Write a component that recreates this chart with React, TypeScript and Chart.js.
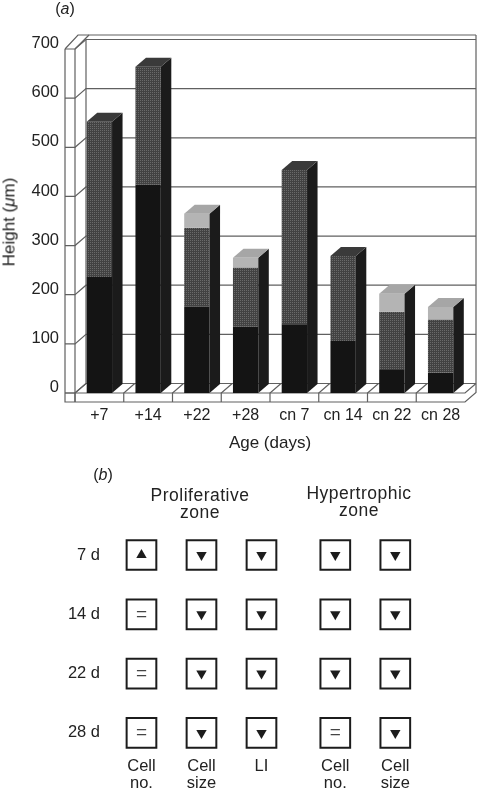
import React, { useEffect, useRef } from "react";
import { Chart, registerables } from "chart.js";

Chart.register(...registerables);

// ---- Panel (a) data ----
const ageLabels = ["+7", "+14", "+22", "+28", "cn 7", "cn 14", "cn 22", "cn 28"];
const lowerZone = [236, 424, 176, 135, 140, 106, 47, 41];
const middleZone = [316, 240, 160, 120, 314, 173, 118, 108];
const upperZone = [0, 0, 29, 20, 0, 0, 37, 26];
const heightTicks = [0, 100, 200, 300, 400, 500, 600, 700];

// ---- Panel (b) data ----
const rowLabels = ["7 d", "14 d", "22 d", "28 d"];
const rowSlots = [0, 1, 2, 3];
const columnLabels = [["Cell", "no."], ["Cell", "size"], ["LI"], ["Cell", "no."], ["Cell", "size"]];
const columnSlots = [0, 1, 2, 3.23, 4.23];
const changes = [
  ["up", "down", "down", "down", "down"],
  ["same", "down", "down", "down", "down"],
  ["same", "down", "down", "down", "down"],
  ["same", "down", "down", "same", "down"],
];

const FONT = "'Liberation Sans', Arial, sans-serif";
const INK = "#222222";
const WALL = "#606060";
const DX = 11;
const DY = 9.5;
const BAR_DX = 10.5;
const BAR_DY = 9;

function stipple(a: string, b: string) {
  const c = document.createElement("canvas");
  c.width = 2;
  c.height = 2;
  const g = c.getContext("2d")!;
  g.fillStyle = a;
  g.fillRect(0, 0, 2, 2);
  g.fillStyle = b;
  g.fillRect(0, 0, 1, 1);
  return g.createPattern(c, "repeat")!;
}

function path(ctx: CanvasRenderingContext2D, pts: number[][], close = false) {
  ctx.beginPath();
  pts.forEach(([x, y], i) => (i ? ctx.lineTo(x, y) : ctx.moveTo(x, y)));
  if (close) ctx.closePath();
}

const frame3d = {
  id: "frame3d",
  beforeDatasetsDraw(chart: any) {
    const { ctx, chartArea } = chart;
    const y = chart.scales.y;
    const x = chart.scales.x;
    const left = x.left;
    const right = x.right;
    const y0 = y.getPixelForValue(0);
    const yTop = y.getPixelForValue(700);
    const outer = left - 10;
    const strip = y0 + 9;
    const roof = chartArea.top;
    const backTop = yTop - DY;
    ctx.save();
    ctx.strokeStyle = WALL;
    ctx.lineWidth = 1.2;
    const line = (pts: number[][]) => {
      path(ctx, pts);
      ctx.stroke();
    };
    // Grid on side wall and back wall, with the tick on the front strip
    heightTicks.forEach((v) => {
      const py = y.getPixelForValue(v);
      line([[outer, py], [left, py], [left + DX, py - DY], [right + DX, py - DY]]);
    });
    // Frame
    line([[outer, yTop], [outer, strip], [right, strip], [right + DX, strip - DY], [right + DX, roof]]);
    line([[left, yTop], [left, strip]]);
    line([[left + DX, backTop], [left + DX, y0 - DY]]);
    line([[outer, yTop], [outer + 13, roof], [right + DX, roof]]);
    line([[left, yTop], [left + 14, roof]]);
    line([[outer, y0], [right, y0], [right + DX, y0 - DY]]);
    // Floor divisions and front strip dividers
    const step = (right - left) / ageLabels.length;
    ageLabels.forEach((_, i) => {
      const bx = x.getPixelForValue(i) - step / 2;
      line([[bx, strip], [bx, y0], [bx + DX, y0 - DY]]);
    });
    ctx.restore();
  },
  afterDatasetsDraw(chart: any) {
    const { ctx } = chart;
    const metas = [0, 1, 2].map((i) => chart.getDatasetMeta(i).data);
    ctx.save();
    ageLabels.forEach((_, i) => {
      const base = metas[0][i];
      const hasUpper = upperZone[i] > 0;
      const top = metas[hasUpper ? 2 : 1][i];
      const r = base.x + base.width / 2;
      const l = base.x - base.width / 2;
      const bottom = base.base;
      ctx.fillStyle = "#1b1b1b";
      path(ctx, [[r, top.y], [r + BAR_DX, top.y - BAR_DY], [r + BAR_DX, bottom - BAR_DY], [r, bottom]], true);
      ctx.fill();
      ctx.fillStyle = hasUpper ? "#a6a6a6" : "#3a3a3a";
      path(ctx, [[l, top.y], [l + BAR_DX, top.y - BAR_DY], [r + BAR_DX, top.y - BAR_DY], [r, top.y]], true);
      ctx.fill();
    });
    ctx.restore();
  },
};

const sameSigns = {
  id: "sameSigns",
  afterDatasetsDraw(chart: any) {
    const { ctx } = chart;
    const idx = chart.data.datasets.findIndex((d: any) => d.label === "same");
    ctx.save();
    ctx.font = `19px ${FONT}`;
    ctx.fillStyle = "#444444";
    ctx.textAlign = "center";
    ctx.textBaseline = "middle";
    chart.getDatasetMeta(idx).data.forEach((p: any) => ctx.fillText("=", p.x, p.y));
    ctx.restore();
  },
};

function cellsWith(kind: string | null) {
  const out: { x: number; y: number }[] = [];
  changes.forEach((row, r) =>
    row.forEach((c, i) => {
      if (kind === null || c === kind) out.push({ x: columnSlots[i], y: rowSlots[r] });
    })
  );
  return out;
}

const abs = (left: number, top: number, extra: React.CSSProperties = {}): React.CSSProperties => ({
  position: "absolute",
  left,
  top,
  transform: "translate(-50%,-50%)",
  whiteSpace: "nowrap",
  fontFamily: FONT,
  color: INK,
  lineHeight: 1,
  ...extra,
});

export default function App() {
  const barRef = useRef<HTMLCanvasElement>(null);
  const gridRef = useRef<HTMLCanvasElement>(null);

  useEffect(() => {
    document.body.style.margin = "0";
    const barChart = new Chart(barRef.current!, {
      type: "bar",
      plugins: [frame3d],
      data: {
        labels: ageLabels,
        datasets: [
          { label: "Lower", data: lowerZone, backgroundColor: "#141414" },
          { label: "Middle", data: middleZone, backgroundColor: stipple("#424242", "#6a6a6a") },
          { label: "Upper", data: upperZone, backgroundColor: "#b4b4b4" },
        ],
      },
      options: {
        responsive: false,
        animation: false,
        layout: { padding: { top: 35, right: 16, left: 0, bottom: 0 } },
        plugins: { legend: { display: false }, tooltip: { enabled: false } },
        datasets: { bar: { barPercentage: 0.52, categoryPercentage: 1 } },
        scales: {
          x: {
            stacked: true,
            grid: { display: false, drawTicks: false },
            border: { display: false },
            afterFit: (s: any) => {
              s.height = 61;
            },
            ticks: { padding: 13, maxRotation: 0, autoSkip: false, color: INK, font: { family: FONT, size: 16 } },
            title: { display: true, text: "Age (days)", color: INK, padding: 0, font: { family: FONT, size: 17, lineHeight: 1.2 } },
          },
          y: { display: false, stacked: true, min: 0, max: 728.5 },
          yLabels: {
            position: "left",
            min: -11,
            max: 717.5,
            grid: { display: false, drawTicks: false },
            border: { display: false },
            afterFit: (s: any) => {
              s.width = 75;
            },
            afterBuildTicks: (s: any) => {
              s.ticks = heightTicks.map((value) => ({ value }));
            },
            ticks: { padding: 16, autoSkip: false, color: INK, font: { family: FONT, size: 16.5 } },
          },
        },
      } as any,
    });

    const gridChart = new Chart(gridRef.current!, {
      type: "scatter",
      plugins: [sameSigns],
      data: {
        datasets: [
          {
            label: "box",
            order: 2,
            data: cellsWith(null),
            pointStyle: "rect",
            pointRadius: 21,
            backgroundColor: "#ffffff",
            borderColor: "#1c1c1c",
            borderWidth: 2,
            clip: false,
          },
          { label: "up", order: 1, data: cellsWith("up"), pointStyle: "triangle", pointRadius: 6, backgroundColor: "#1c1c1c", borderWidth: 0 },
          {
            label: "down",
            order: 1,
            data: cellsWith("down"),
            pointStyle: "triangle",
            pointRotation: 180,
            pointRadius: 6,
            backgroundColor: "#1c1c1c",
            borderWidth: 0,
          },
          { label: "same", order: 1, data: cellsWith("same"), pointRadius: 0 },
        ],
      },
      options: {
        responsive: false,
        animation: false,
        layout: { padding: { top: 75.35, right: 41, left: 0, bottom: 0 } },
        plugins: { legend: { display: false }, tooltip: { enabled: false } },
        scales: {
          x: {
            type: "linear",
            min: -0.558,
            max: 4.975,
            grid: { display: false, drawTicks: false },
            border: { display: false },
            afterFit: (s: any) => {
              s.height = 33.4;
            },
            afterBuildTicks: (s: any) => {
              s.ticks = columnSlots.map((value) => ({ value }));
            },
            ticks: {
              padding: 1,
              maxRotation: 0,
              autoSkip: false,
              color: INK,
              font: { family: FONT, size: 16.5, lineHeight: 1.03 },
              callback: (_: any, i: number) => columnLabels[i],
            },
          },
          y: {
            type: "linear",
            min: -0.5,
            max: 3.4,
            reverse: true,
            grid: { display: false, drawTicks: false },
            border: { display: false },
            afterFit: (s: any) => {
              s.width = 108;
            },
            afterBuildTicks: (s: any) => {
              s.ticks = rowSlots.map((value) => ({ value }));
            },
            ticks: {
              padding: 8,
              autoSkip: false,
              color: INK,
              font: { family: FONT, size: 16.5 },
              callback: (_: any, i: number) => rowLabels[i],
            },
          },
        },
      } as any,
    });

    return () => {
      barChart.destroy();
      gridChart.destroy();
    };
  }, []);

  const heading = { fontSize: 17.5, letterSpacing: 0.5 };
  return (
    <div>
      <canvas ref={barRef} width={481} height={454} style={{ position: "absolute", left: 0, top: 0, width: 481, height: 454 }} />
      <canvas ref={gridRef} width={481} height={340} style={{ position: "absolute", left: 0, top: 450, width: 481, height: 340 }} />
      <div style={abs(65, 9, { fontSize: 16 })}>
        (<i>a</i>)
      </div>
      <div style={abs(9, 222, { fontSize: 17, transform: "translate(-50%,-50%) rotate(-90deg)" })}>
        Height (<i>μ</i>m)
      </div>
      <div style={abs(103, 475, { fontSize: 16 })}>
        (<i>b</i>)
      </div>
      <div style={abs(200, 496, heading)}>Proliferative</div>
      <div style={abs(200, 513, heading)}>zone</div>
      <div style={abs(359, 494, heading)}>Hypertrophic</div>
      <div style={abs(359, 511, heading)}>zone</div>
    </div>
  );
}
